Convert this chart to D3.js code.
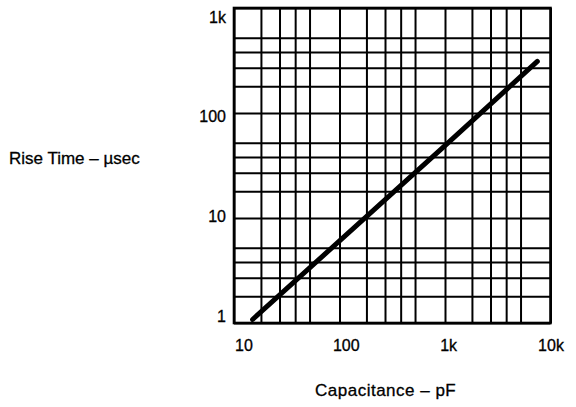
<!DOCTYPE html>
<html>
<head>
<meta charset="utf-8">
<script src="https://cdn.jsdelivr.net/npm/d3@7"></script>
<style>
  body { margin: 0; background: #fff; }
  text { font-family: "Liberation Sans", Arial, Helvetica, sans-serif; fill: #000; stroke: #000; stroke-width: 0.3; }
</style>
</head>
<body>
<svg id="chart"></svg>
<script>
var width = 576;
var height = 407;

// tick values and their labels
var capTicks = [10, 100, 1000, 10000];
var capLabels = ["10", "100", "1k", "10k"];
var riseTicks = [1, 10, 100, 1000];
var riseLabels = ["1", "10", "100", "1k"];

// grid lines inside each decade (as measured on the printed grid,
// which is not quite at 2,3,4,5)
var gridSteps = [1, 1.8, 2.7, 3.8, 5.2];

// the curve
var capacitance = [15, 1000, 7500];
var riseTime = [1.08, 49, 310];

// plot box
var boxLeft = 234, boxRight = 550.5, boxTop = 8, boxBottom = 323;

var svg = d3.select("#chart")
  .attr("width", width)
  .attr("height", height);

var x = d3.scaleLog().domain([10, 10000]).range([boxLeft, boxRight]);
var y = d3.scaleLog().domain([1, 1000]).range([boxBottom, boxTop]);

// labels in the original are a bit off the grid lines
var xLab = d3.scaleLog().domain([10, 10000]).range([244, 551]);
var yLab = d3.scaleLog().domain([1, 1000]).range([316.5, 17]);

var gridX = [];
[10, 100, 1000].forEach(function (d) {
  gridSteps.forEach(function (s) { gridX.push(d * s); });
});
gridX.push(10000);
var gridY = [];
[1, 10, 100].forEach(function (d) {
  gridSteps.forEach(function (s) { gridY.push(d * s); });
});
gridY.push(1000);

// vertical grid
var gx = svg.append("g")
  .attr("transform", "translate(0," + boxBottom + ")")
  .call(d3.axisBottom(x).tickValues(gridX).tickSize(-(boxBottom - boxTop)).tickFormat(""));
gx.select(".domain").remove();
gx.selectAll("line").attr("stroke", "#000").attr("stroke-width", 2);

// horizontal grid
var gy = svg.append("g")
  .attr("transform", "translate(" + boxLeft + ",0)")
  .call(d3.axisLeft(y).tickValues(gridY).tickSize(-(boxRight - boxLeft)).tickFormat(""));
gy.select(".domain").remove();
gy.selectAll("line").attr("stroke", "#000").attr("stroke-width", 2);

// frame
svg.append("rect")
  .attr("x", boxLeft).attr("y", boxTop)
  .attr("width", boxRight - boxLeft).attr("height", boxBottom - boxTop)
  .attr("fill", "none").attr("stroke", "#000").attr("stroke-width", 2.6);

// the curve
var pts = capacitance.map(function (c, i) { return [c, riseTime[i]]; });
svg.append("path")
  .datum(pts)
  .attr("fill", "none")
  .attr("stroke", "#000")
  .attr("stroke-width", 5)
  .attr("stroke-linecap", "round")
  .attr("d", d3.line().x(d => x(d[0])).y(d => y(d[1])));

// tick labels
svg.selectAll(".xl").data(capTicks).enter().append("text")
  .attr("class", "xl")
  .attr("x", d => xLab(d))
  .attr("y", 350.5)
  .attr("text-anchor", "middle")
  .attr("font-size", 16)
  .text((d, i) => capLabels[i]);

svg.selectAll(".yl").data(riseTicks).enter().append("text")
  .attr("class", "yl")
  .attr("x", 226)
  .attr("y", d => yLab(d))
  .attr("dy", "0.35em")
  .attr("text-anchor", "end")
  .attr("font-size", 16)
  .text((d, i) => riseLabels[i]);

// axis titles
svg.append("text")
  .attr("x", 9).attr("y", 164)
  .attr("font-size", 17)
  .text("Rise Time \u2013 \u00b5sec");

svg.append("text")
  .attr("x", 315).attr("y", 396)
  .attr("font-size", 17)
  .attr("letter-spacing", 0.5)
  .text("Capacitance \u2013 pF");
</script>
</body>
</html>
